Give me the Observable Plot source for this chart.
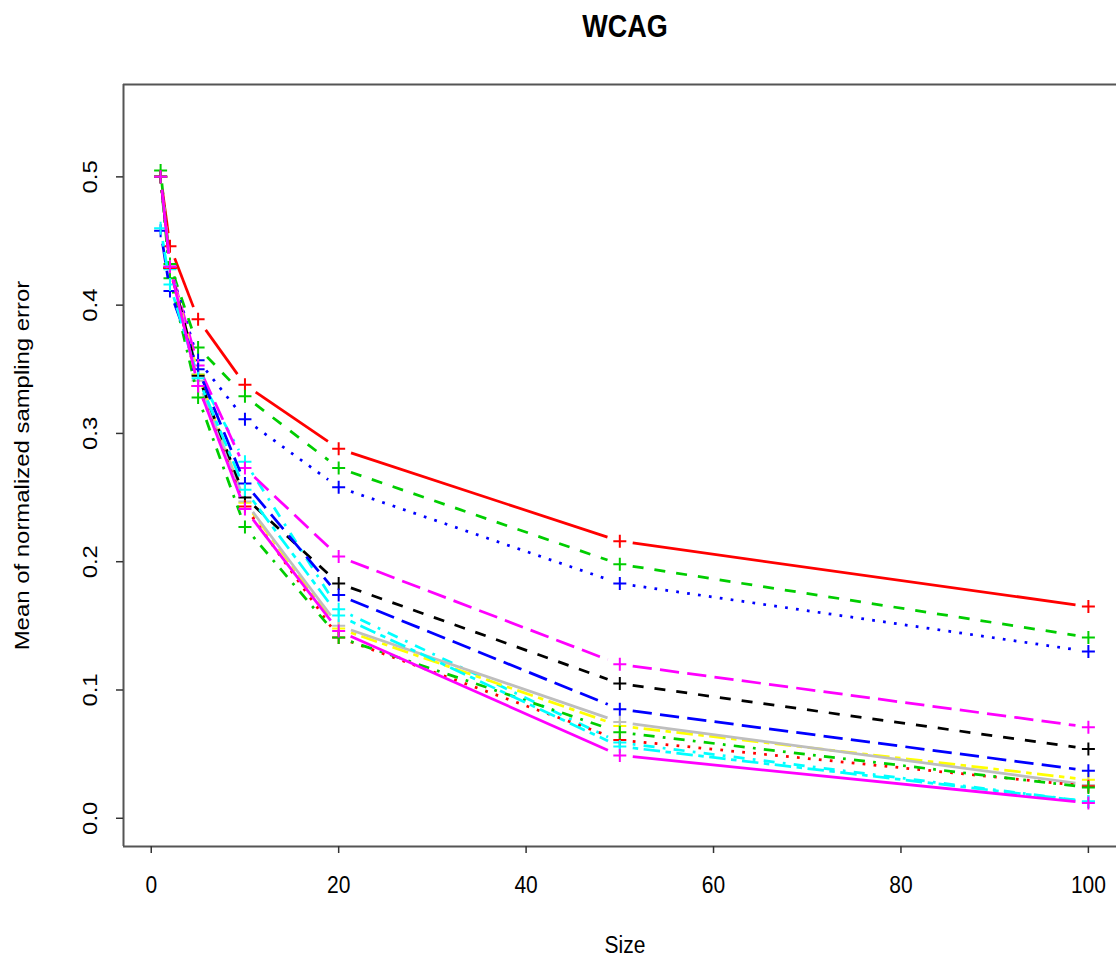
<!DOCTYPE html>
<html><head><meta charset="utf-8">
<script src="https://cdn.jsdelivr.net/npm/d3@7"></script>
<script src="https://cdn.jsdelivr.net/npm/@observablehq/plot@0.6"></script>
<style>body{margin:0;background:#fff} svg{display:block}</style>
</head><body><div id="chart"></div>
<script>
// ---- data ----
const sizes = [1, 2, 5, 10, 20, 50, 100];
const s01 = [0.500, 0.446, 0.389, 0.338, 0.288, 0.216, 0.165]; // red solid
const s02 = [0.505, 0.432, 0.367, 0.329, 0.273, 0.198, 0.141]; // green dashed
const s03 = [0.500, 0.430, 0.357, 0.311, 0.258, 0.183, 0.130]; // blue dotted
const s04 = [0.500, 0.428, 0.346, 0.278, 0.163, 0.059, 0.013]; // cyan dotdash
const s05 = [0.500, 0.430, 0.353, 0.273, 0.204, 0.120, 0.071]; // magenta longdash
const s06 = [0.500, 0.429, 0.346, 0.246, 0.148, 0.072, 0.030]; // yellow twodash
const s07 = [0.500, 0.430, 0.341, 0.247, 0.150, 0.075, 0.026]; // gray solid
const s08 = [0.500, 0.429, 0.345, 0.250, 0.183, 0.105, 0.054]; // black dashed
const s09 = [0.500, 0.429, 0.337, 0.243, 0.141, 0.061, 0.025]; // red dotted
const s10 = [0.500, 0.421, 0.328, 0.227, 0.141, 0.067, 0.024]; // green dotdash
const s11 = [0.458, 0.411, 0.350, 0.261, 0.174, 0.085, 0.037]; // blue longdash
const s12 = [0.460, 0.416, 0.343, 0.256, 0.158, 0.056, 0.013]; // cyan twodash
const s13 = [0.500, 0.430, 0.337, 0.241, 0.146, 0.049, 0.012]; // magenta solid
const seriesValues = [s01, s02, s03, s04, s05, s06, s07, s08, s09, s10, s11, s12, s13];
const seriesColors = ["#FF0000", "#00CD00", "#0000FF", "#00FFFF", "#FF00FF", "#FFFF00", "#BEBEBE",
                      "#000000", "#FF0000", "#00CD00", "#0000FF", "#00FFFF", "#FF00FF"];
const seriesLty = [1, 2, 3, 4, 5, 6, 1, 2, 3, 4, 5, 6, 1];
const xTicks = [0, 20, 40, 60, 80, 100];
const yTicks = [0.0, 0.1, 0.2, 0.3, 0.4, 0.5];
const titleText = "WCAG";
const xLabel = "Size";
const yLabel = "Mean of normalized sampling error";
const xLim = [1, 100];
const yLim = [0, 0.55];

// ---- styling ----
const LWD = 2.75;
const dashFor = {1: null, 2: [4, 4], 3: [1, 3], 4: [1, 3, 4, 3], 5: [7, 3], 6: [2, 2, 6, 2]};
const dash = lty => dashFor[lty] ? dashFor[lty].map(v => v * LWD).join(",") : null;
const ext = (a) => { const d = (a[1] - a[0]) * 0.04; return [a[0] - d, a[1] + d]; };
const xDomain = ext(xLim);
const yDomain = ext(yLim);
const FONT = "Liberation Sans, Arial, Helvetica, sans-serif";
const FS = 21;          // base font size
const STRETCH = 1.14;   // vertical stretch of glyphs seen in the reference

const plusSymbol = {
  draw(ctx, size) {
    const r = Math.sqrt(size / Math.PI);
    ctx.moveTo(-r, 0); ctx.lineTo(r, 0);
    ctx.moveTo(0, -r); ctx.lineTo(0, r);
  }
};

const seriesMarks = seriesValues.flatMap((vals, k) => {
  const pts = sizes.map((s, i) => ({x: s, y: vals[i]}));
  const segs = d3.pairs(pts).map(([a, b]) => ({x1: a.x, y1: a.y, x2: b.x, y2: b.y}));
  return [
    Plot.link(segs, {x1: "x1", y1: "y1", x2: "x2", y2: "y2", stroke: seriesColors[k],
      strokeWidth: LWD, strokeDasharray: dash(seriesLty[k]), strokeLinecap: "butt"}),
    Plot.dot(pts, {x: "x", y: "y", symbol: plusSymbol, r: 6.5, fill: "none",
      stroke: seriesColors[k], strokeWidth: 2})
  ];
});

const chart = Plot.plot({
  width: 1116,
  height: 962,
  marginLeft: 123,
  marginRight: 0,
  marginTop: 84,
  marginBottom: 116,
  style: {fontFamily: FONT, background: "#fff", color: "#000"},
  x: {domain: xDomain, range: [123, 1125], label: null},
  y: {domain: yDomain, label: null},
  marks: [
    Plot.ruleY(yDomain, {stroke: "#555", strokeWidth: 2}),
    Plot.ruleX([xDomain[0]], {stroke: "#555", strokeWidth: 2}),
    Plot.axisX(xTicks, {tickSize: 7, tickFormat: () => "", stroke: "#333", strokeWidth: 1.5, label: null}),
    Plot.axisY(yTicks, {tickSize: 7, tickFormat: () => "", stroke: "#333", strokeWidth: 1.5, label: null}),
    Plot.text(xTicks, {x: d => d, text: d => String(d), frameAnchor: "bottom", dy: 39,
      textAnchor: "middle", lineAnchor: "middle", fontSize: FS, fill: "#000"}),
    Plot.text(yTicks, {y: d => d, text: d => d.toFixed(1), frameAnchor: "left", dx: -33,
      rotate: -90, textAnchor: "middle", lineAnchor: "middle", fontSize: FS, fill: "#000"}),
    Plot.text([titleText], {frameAnchor: "top", dy: -57, dx: 5, fontSize: 27, fontWeight: "bold",
      textAnchor: "middle", lineAnchor: "middle", fill: "#000"}),
    Plot.text([xLabel], {frameAnchor: "bottom", dy: 99, dx: 5, fontSize: FS,
      textAnchor: "middle", lineAnchor: "middle", fill: "#000"}),
    Plot.text([yLabel], {frameAnchor: "left", dx: -101, rotate: -90, fontSize: FS,
      textAnchor: "middle", lineAnchor: "middle", fill: "#000"}),
    ...seriesMarks
  ]
});

// type="b": leave a gap around each point, as R does
const GAP = 13;
d3.select(chart).selectAll('g[aria-label="link"] path').each(function() {
  const d = this.getAttribute("d") || "";
  const n = (d.match(/-?\d*\.?\d+(?:e-?\d+)?/gi) || []).map(Number);
  if (n.length < 4) return;
  const [x1, y1] = n.slice(0, 2);
  const [x2, y2] = n.slice(-2);
  const len = Math.hypot(x2 - x1, y2 - y1);
  if (len <= 2 * GAP) { this.remove(); return; }
  const ux = (x2 - x1) / len, uy = (y2 - y1) / len;
  this.setAttribute("d", `M${x1 + ux * GAP},${y1 + uy * GAP}L${x2 - ux * GAP},${y2 - uy * GAP}`);
});

// stretch the glyphs vertically (screen y), like the reference image
d3.select(chart).selectAll('g[aria-label="text"] text').each(function() {
  const t = this.getAttribute("transform") || "";
  const rotated = /rotate\(\s*-?90/.test(t);
  let base = t;
  if (!/translate/.test(t)) {
    const x = +this.getAttribute("x") || 0, y = +this.getAttribute("y") || 0;
    base = `translate(${x},${y}) ` + t;
    this.setAttribute("x", 0); this.setAttribute("y", 0);
  }
  this.setAttribute("transform", base + (rotated ? ` scale(${STRETCH},1)` : ` scale(1,${STRETCH})`));
});

document.getElementById("chart").appendChild(chart);
</script>
</body></html>
